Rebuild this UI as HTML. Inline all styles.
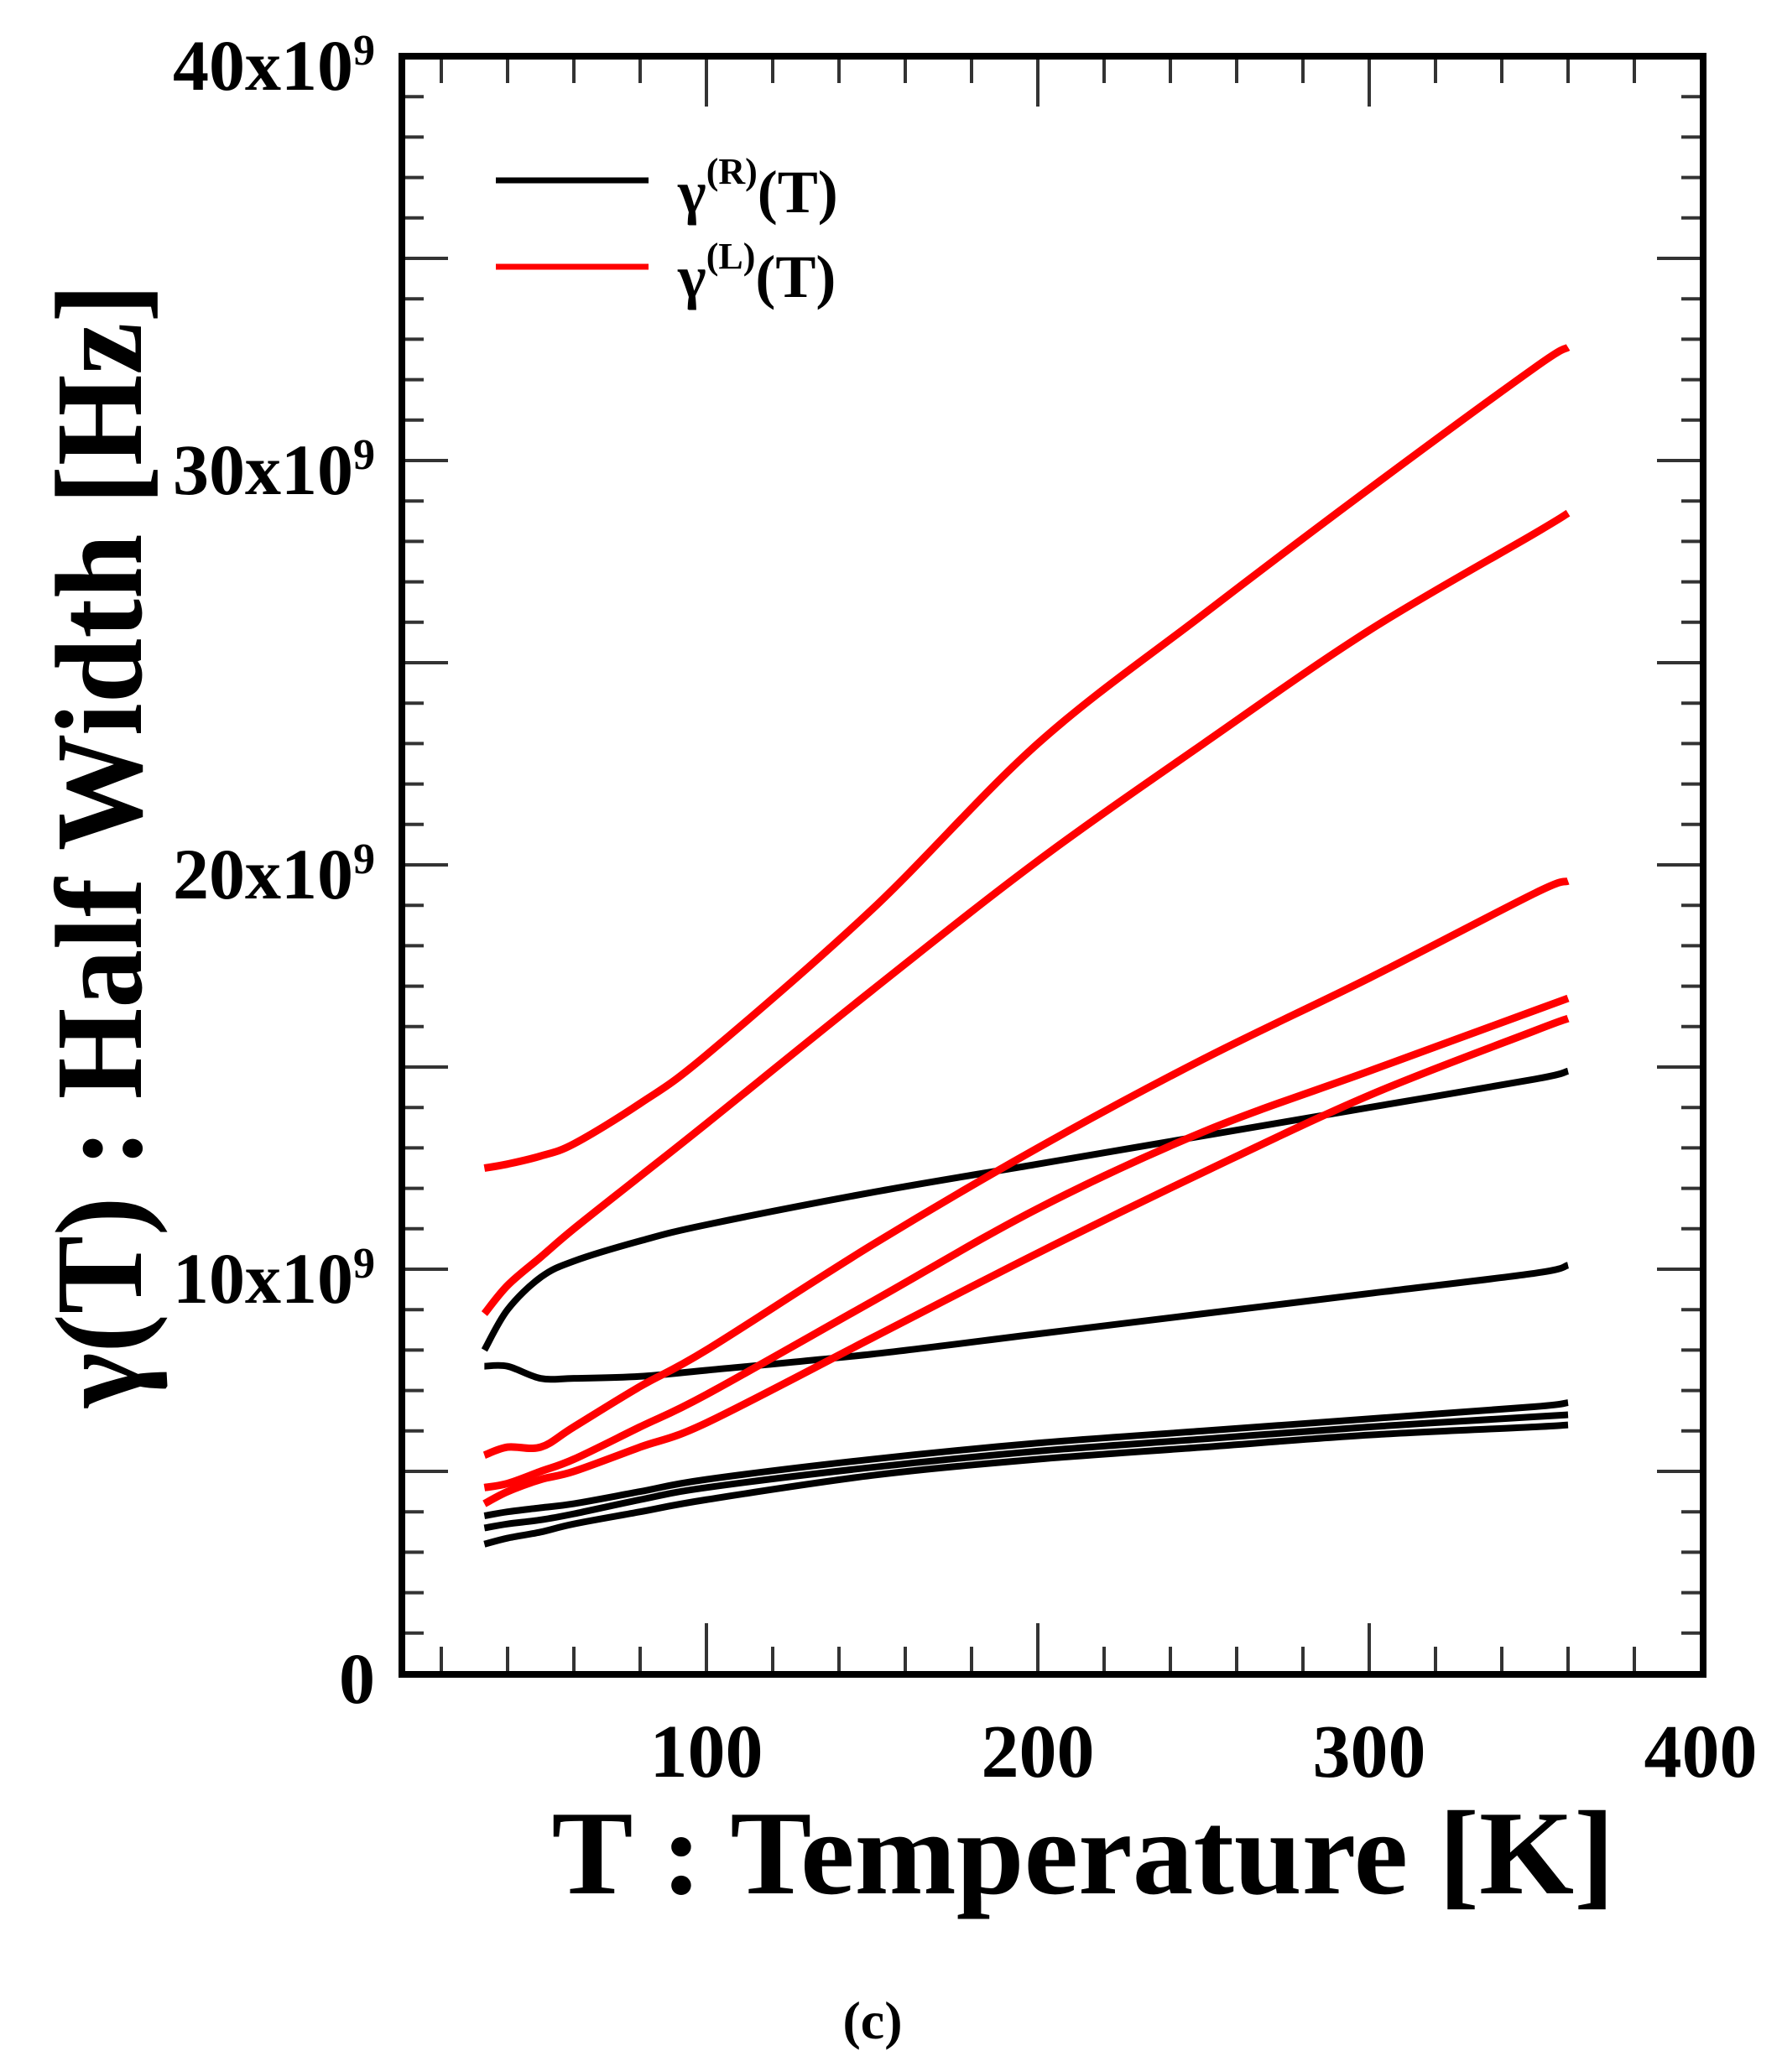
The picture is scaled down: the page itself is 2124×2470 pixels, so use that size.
<!DOCTYPE html>
<html><head><meta charset="utf-8"><style>
html,body{margin:0;padding:0;background:#fff;width:2124px;height:2470px;overflow:hidden}
svg{display:block}
text{font-family:"Liberation Serif",serif}
</style></head><body>
<svg id="chart" width="2124" height="2470" viewBox="0 0 2124 2470" xmlns="http://www.w3.org/2000/svg">
<g id="ticks"></g>
<g id="series"></g>
<rect x="479" y="67" width="1551" height="1929" fill="none" stroke="#000" stroke-width="8"/>
<g id="ylabels" font-weight="bold" font-size="86" text-anchor="end"></g>
<g id="xlabels" font-weight="bold" font-size="90" text-anchor="middle"></g>
<text x="1291" y="2257" font-size="143" font-weight="bold" text-anchor="middle" textLength="1267" lengthAdjust="spacingAndGlyphs">T : Temperature [K]</text>
<text transform="translate(168,1008) rotate(-90)" font-size="148" font-weight="bold" text-anchor="middle" textLength="1340" lengthAdjust="spacingAndGlyphs">γ(T) :  Half Width [Hz]</text>
<text x="1040" y="2430" font-size="64" font-weight="bold" text-anchor="middle">(c)</text>
<g>
<line x1="591" y1="215" x2="773" y2="215" stroke="#000" stroke-width="7"/>
<text x="808" y="253" font-size="72" font-weight="bold">γ<tspan dy="-34" font-size="44">(R)</tspan><tspan dy="34">(T)</tspan></text>
<line x1="591" y1="318" x2="773" y2="318" stroke="#f00" stroke-width="7"/>
<text x="808" y="354" font-size="72" font-weight="bold">γ<tspan dy="-34" font-size="44">(L)</tspan><tspan dy="34">(T)</tspan></text>
</g>
</svg>
<script>
const temps=[33,40,50,60,80,100,150,200,250,300,350,360];
const red1=[12.5,12.6,12.8,13.1,14.1,15.3,18.9,23.0,26.2,29.3,32.3,32.8];
const red2=[8.9,9.6,10.3,11.0,12.3,13.6,16.9,20.1,23.0,25.8,28.2,28.7];
const red3=[5.4,5.6,5.6,6.1,7.1,8.0,10.6,13.0,15.2,17.2,19.3,19.6];
const red4=[4.6,4.7,5.0,5.3,6.1,6.9,9.2,11.5,13.4,14.9,16.4,16.7];
const red5=[4.2,4.5,4.8,5.0,5.6,6.2,8.3,10.4,12.4,14.3,15.9,16.2];
const black1=[8.0,9.0,9.8,10.2,10.7,11.1,11.9,12.6,13.3,14.0,14.7,14.9];
const black2=[7.6,7.6,7.3,7.3,7.35,7.5,7.9,8.4,8.9,9.4,9.9,10.1];
const black3=[3.9,4.0,4.1,4.2,4.5,4.8,5.3,5.7,6.0,6.3,6.6,6.7];
const black4=[3.6,3.7,3.8,3.95,4.3,4.6,5.1,5.5,5.8,6.1,6.35,6.4];
const black5=[3.2,3.35,3.5,3.7,4.0,4.3,4.9,5.3,5.6,5.9,6.1,6.15];
const yTickLabels=["0","10x10","20x10","30x10","40x10"];
const yTickValues=[0,10,20,30,40];
const xTickLabels=["100","200","300","400"];
const xTickValues=[100,200,300,400];

const NS="http://www.w3.org/2000/svg";
const X0=479,X1=2030,Y0=1995,Y1=67;
function xs(t){return 447+3.95*t;}
function ys(v){return Y0-(Y0-Y1)*v/40;}
function mk(tag,attrs,parent){const e=document.createElementNS(NS,tag);for(const k in attrs)e.setAttribute(k,attrs[k]);parent.appendChild(e);return e;}

const tg=document.getElementById('ticks');
for(let v=1;v<40;v++){
  const L=(v%5===0)?55:26;const y=ys(v);
  const a=mk('line',{x1:X0,y1:y,x2:X0+L,y2:y,stroke:'#333','stroke-width':4},tg);
  
  
  const b=mk('line',{x1:X1,y1:y,x2:X1-L,y2:y,stroke:'#333','stroke-width':4},tg);
  
  
}
for(let t=20;t<400;t+=20){
  const L=(t%100===0)?60:32;const x=xs(t);
  const a=mk('line',{x1:x,y1:Y0,x2:x,y2:Y0-L,stroke:'#333','stroke-width':4},tg);
  
  
  const b=mk('line',{x1:x,y1:Y1,x2:x,y2:Y1+L,stroke:'#333','stroke-width':4},tg);
  
  
}
const yl=document.getElementById('ylabels');
yTickValues.forEach((v,i)=>{
  const tx=mk('text',{x:447,y:ys(v)+40},yl);
  
  
  if(v===0){tx.setAttribute('y',ys(v)+35);tx.textContent=yTickLabels[i];}
  else{tx.textContent=yTickLabels[i];const s=mk('tspan',{dy:-30,'font-size':52},tx);s.textContent='9';}
});
const xl=document.getElementById('xlabels');
xTickValues.forEach((v,i)=>{
  const tx=mk('text',{x:xs(v),y:2118},xl);
  
  
  tx.textContent=xTickLabels[i];
});
function pathFor(vals){
  const p=temps.map((t,i)=>[xs(t),ys(vals[i])]);
  let d='M'+p[0][0]+','+p[0][1];
  for(let i=0;i<p.length-1;i++){
    const p0=p[Math.max(0,i-1)],p1=p[i],p2=p[i+1],p3=p[Math.min(p.length-1,i+2)];
    const c1=[p1[0]+(p2[0]-p0[0])/6,p1[1]+(p2[1]-p0[1])/6];
    const c2=[p2[0]-(p3[0]-p1[0])/6,p2[1]-(p3[1]-p1[1])/6];
    d+=' C'+c1+' '+c2+' '+p2;
  }
  return d;
}
const sg=document.getElementById('series');
[[black1,'black-1'],[black2,'black-2'],[black3,'black-3'],[black4,'black-4'],[black5,'black-5']].forEach(([v,n])=>{
  const e=mk('path',{d:pathFor(v),fill:'none',stroke:'#000','stroke-width':8},sg);
  
  
});
[[red1,'red-1'],[red2,'red-2'],[red3,'red-3'],[red4,'red-4'],[red5,'red-5']].forEach(([v,n])=>{
  const e=mk('path',{d:pathFor(v),fill:'none',stroke:'#f00','stroke-width':9},sg);
  
  
});
</script>
</body></html>
